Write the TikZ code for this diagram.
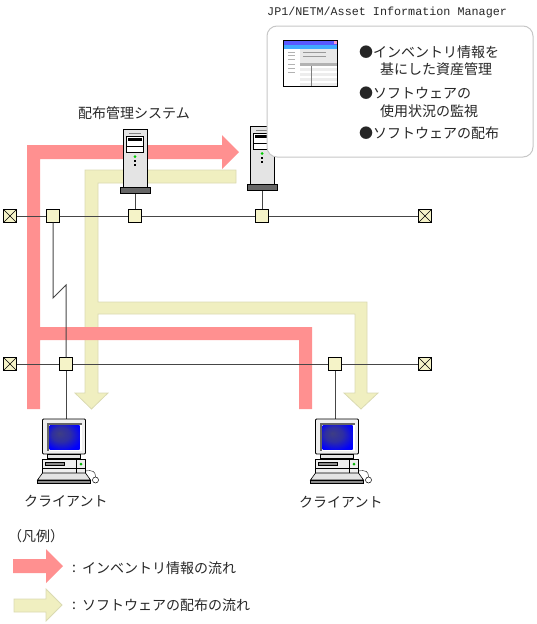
\documentclass[tikz,border=0pt]{standalone}
\usepackage{fontspec}
\setmainfont{Noto Sans CJK JP}
\newfontfamily\latinmono{Liberation Mono}
\usetikzlibrary{arrows.meta,positioning,calc}
\definecolor{FlowRed}{RGB}{255,144,144}
\definecolor{FlowYellow}{RGB}{240,239,192}
\definecolor{EdgeYellow}{RGB}{218,218,178}
\definecolor{HubFill}{RGB}{245,243,200}
\definecolor{BodyGray}{RGB}{228,228,228}
\definecolor{LineGray}{RGB}{70,70,70}
\pgfdeclareradialshading{screenglow}{\pgfpoint{-9bp}{8bp}}{color(0bp)=(rgb:red,0.45;green,0.45;blue,0.95); color(15bp)=(rgb:red,0.2;green,0.2;blue,0.7); color(32bp)=(rgb:red,0;green,0;blue,0.5); color(50bp)=(rgb:red,0;green,0;blue,0.5)}
\tikzset{
  hubbox/.style={draw=black,fill=HubFill,line width=0.9pt,minimum size=12.5pt,inner sep=0pt},
  endbox/.style={hubbox,path picture={
    \draw[line width=0.5pt] (path picture bounding box.north west) -- (path picture bounding box.south east);
    \draw[line width=0.5pt] (path picture bounding box.north east) -- (path picture bounding box.south west);}},
  buswire/.style={LineGray,line width=1pt},
  label/.style={font=\fontsize{14}{14}\selectfont,text=black!85,inner sep=0pt,anchor=west},
  serverbox/.pic={
    \draw[fill=BodyGray,line width=0.9pt] (-12,0) rectangle (12,58);
    \draw[fill=black!60,line width=0.6pt] (-15,58) rectangle (15,64);
    \draw[gray,line width=0.7pt] (-6,4) -- (6,4);
    \draw[fill=white,line width=0.6pt] (-8.5,7) rectangle (8.5,23.5);
    \fill[black] (-7.5,8.5) rectangle (6.5,12);
    \draw[line width=0.5pt] (-8.5,17.5) -- (8.5,17.5);
    \fill[green!80!black] (0,27.5) circle (1.5);
    \fill[black] (-1,31) rectangle (1,33);
    \fill[black] (-1,35) rectangle (1,37);
  },
  clientbox/.pic={
    \draw[fill=BodyGray!60,line width=0.8pt,rounded corners=1pt] (0,0) rectangle (43,35);
    \fill[black!60] (4,4) rectangle (39,32);
    \fill[white] (6,6) rectangle (39,32);
    \shade[shading=screenglow] (7,6) rectangle (37,30);
    \draw[fill=BodyGray,line width=0.6pt] (5,35) rectangle (38,39);
    \draw[fill=BodyGray!60,line width=0.7pt] (0,40) rectangle (43,54);
    \draw[line width=0.5pt] (0,49) -- (43,49);
    \draw[line width=0.5pt] (34,40) -- (34,54);
    \draw[fill=black!45,line width=0.4pt] (3,43) rectangle (22,46.5);
    \fill[green!70!black] (38.5,45) circle (1.5);
    \draw[fill=BodyGray,line width=0.6pt] (0,54) -- (43,54) -- (48,61) -- (-5,61) -- cycle;
    \draw[fill=black!45,line width=0.5pt] (-5,61) rectangle (48,64);
    \draw[line width=0.4pt] (43,52) .. controls (50,51) and (53,52) .. (53,58);
    \draw[fill=white,line width=0.5pt] (53,61) circle (3);
  }
}

\begin{document}
\begin{tikzpicture}[x=1pt,y=-1pt]
  \useasboundingbox (0,0) rectangle (536,624);

  \draw[EdgeYellow,fill=FlowYellow,line width=0.8pt] (236,170) -- (85,170) -- (85,393) -- (75,393) -- (91.5,409) -- (108,393) -- (98,393) -- (98,314) -- (355,314) -- (355,393) -- (344,393) -- (361,409) -- (378,393) -- (367,393) -- (367,302) -- (98,302) -- (98,183) -- (236,183) -- cycle;
  \fill[FlowRed] (27,409) -- (27,145) -- (222,145) -- (222,135) -- (239,152) -- (222,169) -- (222,159) -- (40,159) -- (40,327) -- (312,327) -- (312,409) -- (299,409) -- (299,340) -- (40,340) -- (40,409) -- cycle;

  \node[endbox] (endAL) at (10,216) {};
  \node[hubbox] (hubAa) at (53,216) {};
  \node[hubbox] (hubAb) at (135,216) {};
  \node[hubbox] (hubAc) at (262,216) {};
  \node[endbox] (endAR) at (425,216) {};
  \node[endbox] (endBL) at (10,364) {};
  \node[hubbox] (hubBa) at (66,364) {};
  \node[hubbox] (hubBb) at (335,364) {};
  \node[endbox] (endBR) at (425,364) {};
  \coordinate (zigA) at (53,298);
  \coordinate (zigB) at (66,285);
  \coordinate (srvLinkA) at (135,193);
  \coordinate (srvLinkB) at (262,190);
  \coordinate (pcLinkA) at (66,419);
  \coordinate (pcLinkB) at (335,419);

  \draw[buswire] (endAL) -- (hubAa) -- (hubAb) -- (hubAc) -- (endAR);
  \draw[buswire] (endBL) -- (hubBa) -- (hubBb) -- (endBR);
  \draw[buswire] (hubAa) -- (zigA) -- (zigB) -- (hubBa);
  \draw[buswire] (hubAb) -- (srvLinkA);
  \draw[buswire] (hubAc) -- (srvLinkB);
  \draw[buswire] (hubBa) -- (pcLinkA);
  \draw[buswire] (hubBb) -- (pcLinkB);

  \pic at (135,129) {serverbox};
  \pic at (262,126) {serverbox};
  \pic at (42.5,419) {clientbox};
  \pic at (315.5,419) {clientbox};

  \draw[black!22,fill=white,line width=1pt,rounded corners=10pt] (267,26) rectangle (533,157);
  \draw[line width=0.8pt,fill=white] (283.5,40.5) rectangle (337.5,86.5);
  \fill[blue!65!white] (284,41) rectangle (337,45);
  \fill[blue!45!cyan!75!white] (284,45) rectangle (337,49);
  \fill[magenta!40] (334,41) rectangle (337,44);
  \fill[black!9] (300,49) rectangle (337,63);
  \fill[black!30] (300,63) rectangle (337,66);
  \foreach \rowy in {68,73,78,83} \fill[black!7] (300,\rowy) rectangle (337,\rowy+2.5);
  \foreach \liney in {52,56} \draw[black!40,line width=0.5pt] (303,\liney) -- (326,\liney);
  \foreach \liney in {52,55,59,64,68,72} \draw[black!30,line width=0.5pt] (288,\liney) -- (295,\liney);
  \draw[black!50,line width=0.5pt] (311.5,66) -- (311.5,86);

  \node[label,font=\fontsize{11.75}{14}\selectfont\latinmono] (titleAim) at (267,12) {JP1/NETM/Asset Information Manager};
  \node[label] (noteA) at (359,52) {●インベントリ情報を};
  \node[label] (noteAb) at (380,69) {基にした資産管理};
  \node[label] (noteB) at (359,93) {●ソフトウェアの};
  \node[label] (noteBb) at (380,111) {使用状況の監視};
  \node[label] (noteC) at (359,133) {●ソフトウェアの配布};
  \node[label] (srvName) at (78,113) {配布管理システム};
  \node[label] (pcNameA) at (24,501) {クライアント};
  \node[label] (pcNameB) at (299,502) {クライアント};

  \node[label] (legendHead) at (8,536) {（凡例）};
  \fill[FlowRed] (13,559) -- (46,559) -- (46,549) -- (63,566) -- (46,583) -- (46,573) -- (13,573) -- cycle;
  \draw[EdgeYellow,fill=FlowYellow,line width=0.8pt] (14,599) -- (46,599) -- (46,589) -- (62,605) -- (46,621) -- (46,612) -- (14,612) -- cycle;
  \node[label] (legendRedSep) at (72,569) {:};
  \node[label] (legendRed) at (82,568) {インベントリ情報の流れ};
  \node[label] (legendYellowSep) at (72,606) {:};
  \node[label] (legendYellow) at (82,605) {ソフトウェアの配布の流れ};
\end{tikzpicture}
\end{document}
